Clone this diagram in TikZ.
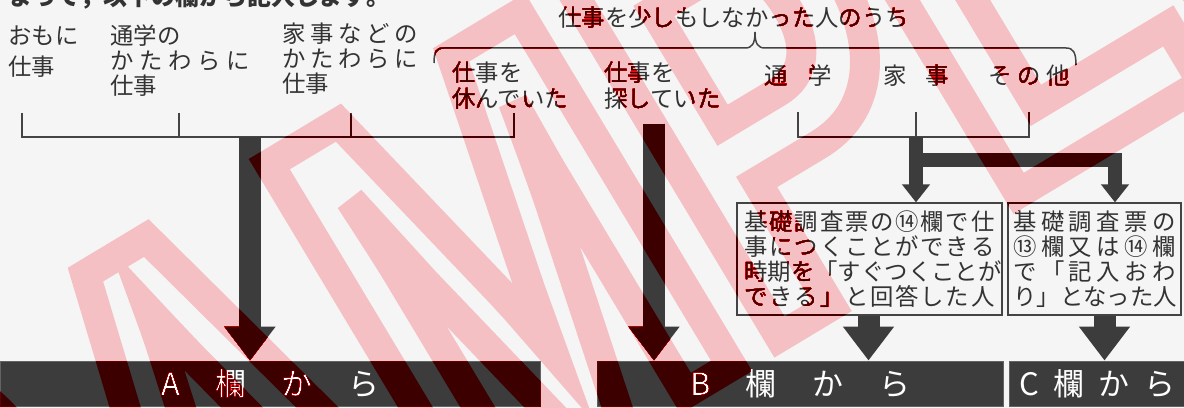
\documentclass[tikz,border=0pt]{standalone}
\usepackage{fontspec}
\setmainfont{Noto Sans CJK JP}
\newfontfamily\markfont[FakeStretch=0.7]{Liberation Sans}
\usetikzlibrary{arrows.meta}

\definecolor{paper}{HTML}{F5F5F5}
\definecolor{ink}{HTML}{333333}
\definecolor{slabgray}{HTML}{3C3C3C}
\definecolor{rulegray}{HTML}{444444}
\definecolor{stamp}{HTML}{FF282A}

\newdimen\px \px=0.02cm
\def\gobbleone#1{}
\def\keepone#1{#1}
\def\spreadloop#1#2{#1\ifx\relax#2\expandafter\gobbleone\else\hfill\expandafter\keepone\fi{\spreadloop#2}}
\newcommand\spread[2]{\makebox[#1][s]{\spreadloop#2\relax}}
\newcommand\bodysize{\fontsize{13.3pt}{14.17pt}\selectfont}
\newcommand\slabsize{\fontsize{17.6pt}{20pt}\selectfont}

\begin{document}
\begin{tikzpicture}[x=0.02cm,y=-0.02cm,font=\bodysize,
    every node/.style={inner sep=0pt,text=ink},
    word/.style={anchor=base west},
    tickline/.style={draw=rulegray,line width=0.85pt},
    bigarrow/.style={draw=slabgray,line width=0.44cm,-{Triangle[width=0.98cm,length=0.68cm]}},
    forkarrow/.style={draw=slabgray,line width=0.27cm,miter limit=10,-{Triangle[width=0.54cm,length=0.36cm]}},
    notebox/.style={draw=rulegray,line width=0.7pt,fill=paper,align=left},
    slab/.style={fill=slabgray,draw=slabgray!80!white,line width=0.5pt,minimum height=45\px,text=white,font=\slabsize}]
  \useasboundingbox[fill=paper] (0,0) rectangle (1184,408);
  \clip (0,0) rectangle (1184,408);

  % lead line, cut at the top edge
  \node[word] (lead) at (8,6) {\bfseries\fontsize{13.6pt}{16pt}\selectfont\spread{375\px}{まって，以下の欄から記入します。}};

  % left group
  \node[word] (main1) at (8,45) {おもに};
  \node[word] (main2) at (8,76) {仕事};
  \node[word] (school1) at (110,45) {通学の};
  \node[word] (school2) at (110,70) {\spread{140\px}{かたわらに}};
  \node[word] (school3) at (110,95) {仕事};
  \node[word] (house1) at (282,43) {\spread{136\px}{家事などの}};
  \node[word] (house2) at (282,68) {\spread{136\px}{かたわらに}};
  \node[word] (house3) at (282,93) {仕事};
  \node[word] (rest1) at (452,82) {仕事を};
  \node[word] (rest2) at (452,108) {休んでいた};
  \node[word] (seek1) at (604,82) {仕事を};
  \node[word] (seek2) at (604,108) {探していた};

  % brace over those who did no work
  \node[word] (none) at (558,27) {仕事を少しもしなかった人のうち};
  \draw[tickline] (434,63) .. controls (434,52) and (436,48) .. (444,48) -- (745,48)
    .. controls (752,48) and (755,44) .. (755,32) .. controls (755,44) and (758,48) .. (765,48)
    -- (1066,48) .. controls (1073,48) and (1076,52) .. (1076,65);
  \node[anchor=base] (study) at (798,85) {\spread{68\px}{通学}};
  \node[anchor=base] (chores) at (916,85) {\spread{66\px}{家事}};
  \node[anchor=base] (other) at (1029,85) {\spread{82\px}{その他}};

  % brackets
  \draw[tickline] (22,113) |- (514,137) -- (514,113);
  \draw[tickline] (179,113) -- (179,137);
  \draw[tickline] (351,113) -- (351,137);
  \draw[tickline] (study.base |- 0,112) |- (other.base |- 0,137) -- (other.base |- 0,112);
  \draw[tickline] (chores.base |- 0,112) -- (chores.base |- 0,137);

  % boxes
  \node[notebox,minimum width=265\px,minimum height=112\px] (ask) at (869.5,259)
    {\spread{250\px}{基礎調査票の⑭欄で仕}\\\spread{250\px}{事につくことができる}\\
     \spread{250\px}{時期を「すぐつくことが}\\\spread{250\px}{できる」と回答した人}};
  \node[notebox,minimum width=173\px,minimum height=112\px] (done) at (1094.5,259)
    {\spread{162\px}{基礎調査票の}\\\spread{162\px}{⑬欄又は⑭欄}\\
     \spread{162\px}{で「記入おわ}\\\spread{162\px}{り」となった人}};

  % slabs
  \node[slab,minimum width=540\px] (slabA) at (270,383.5) {\spread{218\px}{A　欄　か　ら}};
  \node[slab,minimum width=406\px] (slabB) at (800,383.5) {\spread{220\px}{B　欄　か　ら}};
  \node[slab,minimum width=176\px] (slabC) at (1097,383.5) {\spread{156\px}{C欄から}};

  % arrows
  \coordinate (joinA) at (250,137);
  \coordinate (joinB) at (654,124);
  \coordinate (joinR) at (chores.base |- 0,137);
  \draw[bigarrow] (joinA) -- (joinA |- slabA.north);
  \draw[bigarrow] (joinB) -- (joinB |- slabB.north);
  \draw[bigarrow] ([xshift=-1\px]ask.south) -- ([xshift=-1\px]ask.south |- slabB.north);
  \draw[bigarrow] ([xshift=10\px]done.south) -- ([xshift=10\px]done.south |- slabC.north);
  \draw[forkarrow] (joinR) -- (joinR |- ask.north);
  \draw[forkarrow] ([yshift=-23\px]joinR) -| ([xshift=20.5\px]done.north);

  % watermark
  \begin{scope}[blend mode=color burn]
    \node[rotate=31,text=stamp,font=\markfont\bfseries\fontsize{340pt}{340pt}\selectfont] (stampword) at (600,205)
      {\special{pdf:literal 1 Tr 17 w}SAMPLE\special{pdf:literal 0 Tr}};
  \end{scope}
\end{tikzpicture}
\end{document}
